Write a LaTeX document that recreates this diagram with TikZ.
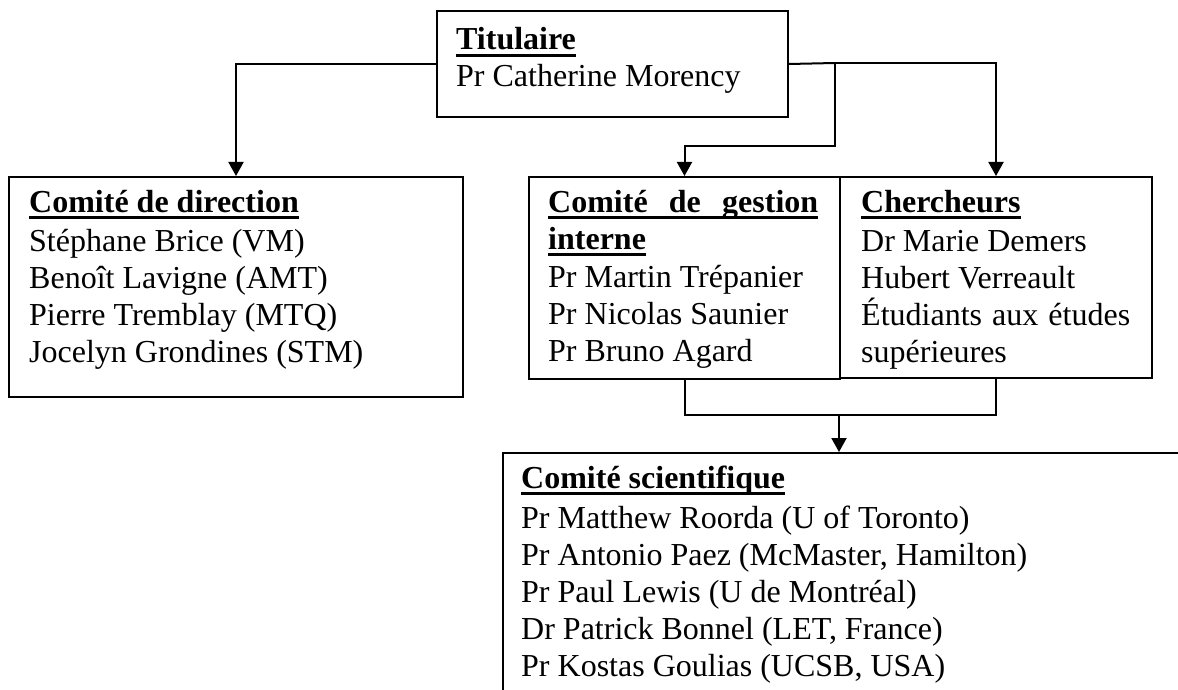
\documentclass[tikz,border=0pt]{standalone}
\usepackage{fontspec}
\setmainfont{Liberation Serif}
\usetikzlibrary{arrows.meta}
% bold heading with a thick underline
\newcommand\hd[1]{\leavevmode\setbox0\hbox{\textbf{#1}}\rlap{\rule[-7pt]{\wd0}{3pt}}\box0}
\begin{document}
\begin{tikzpicture}[x=1pt,y=-1pt,
  box/.style={draw, line width=2pt, inner sep=0pt, anchor=north west},
  txt/.style={inner sep=0pt, anchor=base west, font=\fontsize{32}{37}\selectfont},
  link/.style={line width=2pt},
  arr/.style={line width=2pt, -{Triangle[width=15pt,length=14pt]}}]
\clip (0,0) rectangle (1178,690);
\fill[white] (0,0) rectangle (1178,690);

% boxes
\node[box, minimum width=351pt, minimum height=106pt] (tit) at (436,10) {};
\node[box, minimum width=454pt, minimum height=220pt] (dir) at (8,176) {};
\node[box, minimum width=311pt, minimum height=202pt] (ges) at (528,176) {};
\node[box, minimum width=312pt, minimum height=201pt] (cher) at (839,176) {};
\node[box, minimum width=800pt, minimum height=400pt] (sci) at (502,452) {};

% texts
\node[txt] (tit-t) at (456,50) {\parbox[t]{340pt}{\hd{Titulaire}\\
  Pr Catherine Morency}};
\node[txt] (dir-t) at (29,212) {\parbox[t]{430pt}{\hd{Comité de direction}\\[2pt]
  Stéphane Brice (VM)\\
  Benoît Lavigne (AMT)\\
  Pierre Tremblay (MTQ)\\
  Jocelyn Grondines (STM)}};
\node[txt] (ges-t) at (548,212) {\parbox[t]{290pt}{\hd{\makebox[270pt][s]{Comité de gestion}}\\
  \hd{interne}\\[1pt]
  Pr Martin Trépanier\\
  Pr Nicolas Saunier\\
  Pr Bruno Agard}};
\node[txt] (cher-t) at (861,212) {\parbox[t]{290pt}{\hd{Chercheurs}\\[2pt]
  Dr Marie Demers\\
  Hubert Verreault\\
  \makebox[269pt][s]{Étudiants aux études}\\
  supérieures}};
\node[txt] (sci-t) at (521,488) {\parbox[t]{660pt}{\hd{Comité scientifique}\\[3pt]
  Pr Matthew Roorda (U of Toronto)\\
  Pr Antonio Paez (McMaster, Hamilton)\\
  Pr Paul Lewis (U de Montréal)\\
  Dr Patrick Bonnel (LET, France)\\
  Pr Kostas Goulias (UCSB, USA)}};

% connectors
\coordinate (split) at (835,63);
\coordinate (merge) at (839,415);
\draw[arr] (tit.west) -| (dir.north);
\draw[link] (tit.east) -- (split);
\draw[arr] (split) -| (cher.north);
\draw[arr] (split) -- ++(0,83) -| (ges.north);
\draw[link] (ges.south) |- (merge) -| (cher.south);
\draw[arr] (merge) -- (merge |- sci.north);
\end{tikzpicture}
\end{document}
